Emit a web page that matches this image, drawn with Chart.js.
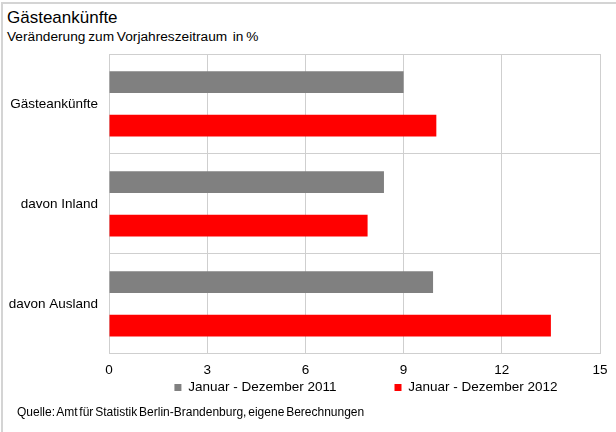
<!DOCTYPE html>
<html>
<head>
<meta charset="utf-8">
<script src="https://cdn.jsdelivr.net/npm/chart.js@4"></script>
<style>
  html, body { margin: 0; padding: 0; background: #fff; }
  #wrap {
    position: relative; width: 616px; height: 432px; overflow: hidden;
    font-family: "Liberation Sans", Arial, sans-serif; color: #000;
  }
  #frame {
    position: absolute; left: 1px; top: 2px; width: 640px; height: 460px;
    border-left: 2px solid #d4d4d4; border-top: 2px solid #d4d4d4;
  }
  #title { position: absolute; left: 7px; top: 8px; font-size: 17px; }
  #subtitle { position: absolute; left: 7px; top: 29px; font-size: 13.7px; word-spacing: -1px; }
  #source { position: absolute; left: 17px; top: 405px; font-size: 12px; word-spacing: -1.5px; }
  canvas { position: absolute; left: 0; top: 0; }
</style>
</head>
<body>
<div id="wrap">
  <div id="frame"></div>
  <div id="title">Gästeankünfte</div>
  <div id="subtitle">Veränderung zum Vorjahreszeitraum&nbsp; in %</div>
  <canvas id="chart" width="616" height="432"></canvas>
  <div id="source">Quelle: Amt für Statistik Berlin-Brandenburg, eigene Berechnungen</div>
</div>
<script>
// --------------- Data ---------------
const categories = ["Gästeankünfte", "davon Inland", "davon Ausland"];
const seriesNames = ["Januar - Dezember 2011", "Januar - Dezember 2012"];
const values2011 = [9.0, 8.4, 9.9];
const values2012 = [10.0, 7.9, 13.5];
const xTicks = [0, 3, 6, 9, 12, 15];

const font = { family: '"Liberation Sans", Arial, sans-serif', size: 13.5 };
const gridColor = '#cfcfcf';

// the legend padding is also the gap between the two entries, so the box
// is made tall and moved up until the row sits just under the tick labels
const legendPlace = {
  id: 'legendPlace',
  afterLayout(chart) {
    const lg = chart.legend;
    const pad = lg.options.labels.padding;
    lg.top = chart.chartArea.bottom + 27 - pad;
    lg.bottom = lg.top + pad + 30;
    lg.height = lg.bottom - lg.top;
    lg.left += 66;
    lg.right += 66;
  }
};

// --------------- Chart ---------------
const ctx = document.getElementById('chart').getContext('2d');
new Chart(ctx, {
  type: 'bar',
  data: {
    labels: categories,
    datasets: [
      { label: seriesNames[0], data: values2011, backgroundColor: '#808080' },
      { label: seriesNames[1], data: values2012, backgroundColor: '#ff0000' }
    ]
  },
  options: {
    indexAxis: 'y',
    responsive: false,
    animation: false,
    categoryPercentage: 0.87,
    barPercentage: 0.5,
    layout: { padding: { top: 54, right: 16, bottom: 26, left: 0 } },
    scales: {
      x: {
        min: xTicks[0],
        max: xTicks[xTicks.length - 1],
        afterBuildTicks: axis => { axis.ticks = xTicks.map(v => ({ value: v })); },
        ticks: { color: '#000', font: font, padding: 8 },
        grid: { color: gridColor, drawTicks: false },
        border: { color: gridColor }
      },
      y: {
        ticks: { color: '#000', font: font, padding: 11 },
        grid: { color: gridColor, drawTicks: false },
        border: { color: gridColor },
        afterFit: axis => { axis.width = 109; }
      }
    },
    plugins: {
      legend: {
        position: 'bottom',
        maxHeight: 20,
        labels: { color: '#000', font: font, boxWidth: 7, boxHeight: 7, padding: 58 }
      },
      tooltip: { enabled: false }
    }
  },
  plugins: [legendPlace]
});
</script>
</body>
</html>
